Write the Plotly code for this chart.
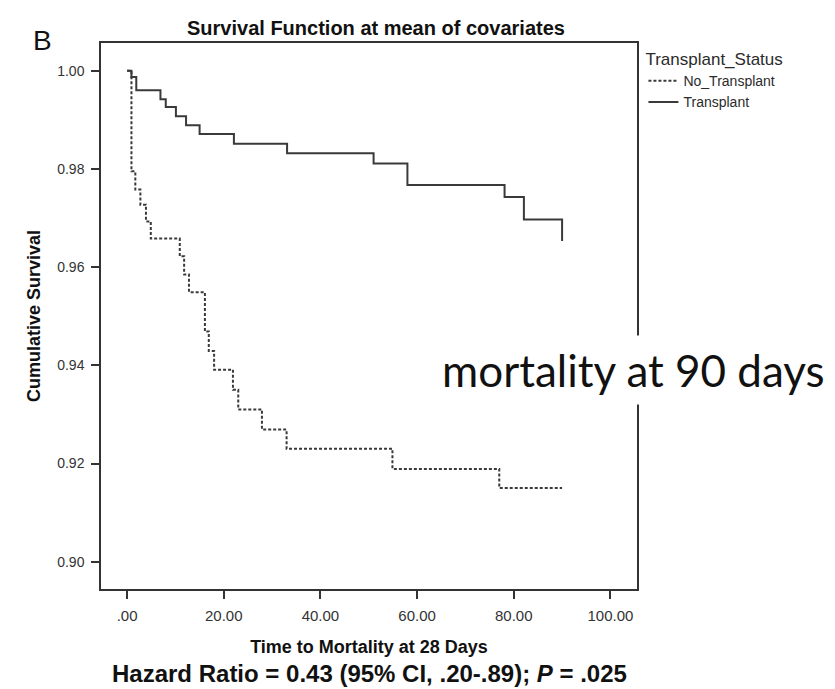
import plotly.graph_objects as go

# Transplant group (step points: time, cumulative survival)
transplant_t = [0, 0.9, 1.9, 6.9, 8.0, 10.1, 12.2, 15.0, 22.1, 33.1, 51.0, 58.0, 78.1, 82.1, 90.0]
transplant_s = [1.0, 0.9987, 0.9960, 0.9942, 0.9926, 0.9907, 0.9889, 0.9871, 0.9851, 0.9832, 0.9811, 0.9767, 0.9743, 0.9697, 0.9653]

# No transplant group
no_transplant_t = [0, 0.9, 1.7, 2.75, 3.9, 4.9, 10.9, 11.8, 12.8, 16.1, 16.9, 18.0, 21.9, 23.0, 27.9, 33.0, 54.9, 77.0, 90.0]
no_transplant_s = [1.0, 0.9795, 0.9758, 0.9727, 0.9693, 0.9658, 0.9622, 0.9585, 0.9549, 0.9469, 0.9429, 0.9391, 0.9350, 0.9310, 0.9269, 0.9230, 0.9189, 0.9150, 0.9150]

x_tickvals = [0, 20, 40, 60, 80, 100]
x_ticktext = [".00", "20.00", "40.00", "60.00", "80.00", "100.00"]
y_tickvals = [0.90, 0.92, 0.94, 0.96, 0.98, 1.00]
y_ticktext = ["0.90", "0.92", "0.94", "0.96", "0.98", "1.00"]

FONT = "Liberation Sans, Arial, sans-serif"
INK = "#2b2b2b"

fig = go.Figure()
fig.add_trace(go.Scatter(
    x=no_transplant_t, y=no_transplant_s, mode="lines", name="No_Transplant",
    line=dict(shape="hv", color="#3a3a3a", width=2, dash="3px,2px"),
))
fig.add_trace(go.Scatter(
    x=transplant_t, y=transplant_s, mode="lines", name="Transplant",
    line=dict(shape="hv", color="#3a3a3a", width=2),
))

fig.update_layout(
    width=835, height=689,
    margin=dict(l=93, r=206, t=35, b=108),
    paper_bgcolor="white", plot_bgcolor="white",
    font=dict(family=FONT, color=INK),
    title=dict(text="<b>Survival Function at mean of covariates</b>",
               font=dict(size=20, family=FONT, color="#111"),
               x=0.513, xref="paper", xanchor="center",
               y=1 - 20 / 689, yref="container", yanchor="middle"),
    showlegend=True,
    legend=dict(
        title=dict(text="Transplant_Status", font=dict(size=17, family=FONT, color=INK)),
        font=dict(size=14, family=FONT, color=INK),
        x=1.012, xanchor="left", y=1.0, yanchor="top",
        itemwidth=30, tracegroupgap=0, bgcolor="rgba(0,0,0,0)",
    ),
    xaxis=dict(
        range=[-5.4, 105.5], tickvals=x_tickvals, ticktext=x_ticktext,
        showgrid=False, zeroline=False, showline=True, mirror=True,
        linecolor="#333", linewidth=1.5, ticks="outside", ticklen=8,
        tickwidth=1.5, tickcolor="#333", ticklabelstandoff=4,
        tickfont=dict(size=15, family=FONT, color="#333"),
        title=dict(text="<b>Time to Mortality at 28 Days</b>", standoff=18,
                   font=dict(size=18, family=FONT, color="#111")),
    ),
    yaxis=dict(
        range=[0.89444, 1.00564], tickvals=y_tickvals, ticktext=y_ticktext,
        showgrid=False, zeroline=False, showline=True, mirror=True,
        linecolor="#333", linewidth=1.5, ticks="outside", ticklen=8,
        tickwidth=1.5, tickcolor="#333", ticklabelstandoff=4,
        tickfont=dict(size=14, family=FONT, color="#333"),
        title=dict(text="<b>Cumulative Survival</b>", standoff=12,
                   font=dict(size=18, family=FONT, color="#111")),
    ),
    annotations=[
        dict(text="B", xref="paper", yref="paper", x=(34.5 - 93) / 536, y=(581 - 32) / 546,
             xanchor="center", yanchor="middle", showarrow=False,
             font=dict(size=28, family=FONT, color="#111")),
        dict(text="<b>Hazard Ratio = 0.43 (95% CI, .20-.89); <i>P</i> = .025</b>",
             xref="paper", yref="paper", x=(361 - 93) / 536, y=(581 - 666) / 546,
             xanchor="center", yanchor="middle", showarrow=False,
             font=dict(size=24, family=FONT, color="#111")),
        dict(text="mortality at 90 days", xref="paper", yref="paper",
             x=(625 - 93) / 536, y=(581 - 362) / 546, xanchor="center", yanchor="middle",
             showarrow=False, bgcolor="white", borderpad=8,
             font=dict(size=44, family="Lato, Noto Sans, sans-serif", color="#111")),
    ],
)

fig.write_html("out.html")
